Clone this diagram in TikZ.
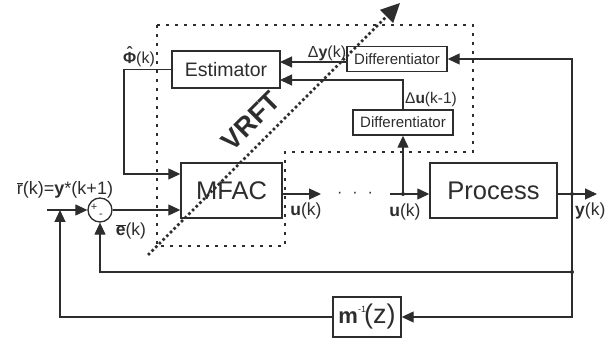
\documentclass[tikz,border=0pt]{standalone}
\usepackage{fontspec}
\setmainfont{Liberation Sans}
\usetikzlibrary{arrows.meta}
\definecolor{ink}{RGB}{45,45,45}
\newcommand{\fs}[1]{\fontsize{#1}{#1}\selectfont}
\begin{document}
\begin{tikzpicture}[x=1pt,y=-1pt,
  every node/.style={text=ink,inner sep=0pt},
  box/.style={draw=ink,line width=1.4pt,fill=white,inner sep=0pt},
  conn/.style={draw=ink,line width=1.2pt},
  arr/.style={conn,-{Triangle[length=12pt,width=11pt]}},
  dotbox/.style={draw=ink,line width=1.5pt,dash pattern=on 2.6pt off 6.4pt},
  vrft/.style={draw=ink,line width=2.8pt,dash pattern=on 2.6pt off 2.6pt,-{Triangle[length=19pt,width=18pt]}},
  jdot/.style={circle,fill=ink,inner sep=0pt,minimum size=4pt}]
\useasboundingbox (0,0) rectangle (614,344);

% dotted VRFT region
\draw[dotbox] (157,25) -- (473,25) -- (473,152) -- (285,152) -- (285,246) -- (157,246) -- cycle;

% blocks
\node[box,minimum width=108pt,minimum height=37pt] (est) at (226,69.5) {\fs{19.5}Estimator};
\node[box,minimum width=101pt,minimum height=55pt] (mfac) at (231.5,190.5) {\fs{25.5}MFAC};
\node[box,minimum width=127pt,minimum height=55pt] (proc) at (493.5,190.5) {\fs{25.5}Process};
\node[box,minimum width=100pt,minimum height=25pt] (dif1) at (397,59) {\fs{15}Differentiator};
\node[box,minimum width=100pt,minimum height=25pt] (dif2) at (403,122.5) {\fs{15}Differentiator};
\node[box,minimum width=68pt,minimum height=40pt] (minv) at (367,317) {\fs{22}\textbf{m}\raisebox{0.5em}{\fs{9}-1}\kern-2pt\fs{27}(z)};
\node[circle,draw=ink,line width=1.3pt,minimum size=24pt] (sum) at (100,210) {};
\node (plus) at (94,207) {\fs{11}+};
\node (minus) at (101,216) {\fs{11}-};

% coordinates
\coordinate (rin) at (47,210);
\coordinate (rj) at (60,210);
\coordinate (phiC) at (124,174);
\coordinate (uo) at (321,194);
\coordinate (ui) at (390,194);
\coordinate (ju) at (403,194);
\coordinate (e1) at (280,62);
\coordinate (e2) at (280,80);
\coordinate (yo) at (597,194);
\coordinate (jy) at (572,194);
\coordinate (jb) at (572,272);

% connectors
\draw[arr] (rin) -- (sum.west);
\draw[arr] (sum.east) -- (sum.east -| mfac.west);
\draw[arr] (est.west) -| (phiC) -- (phiC -| mfac.west);
\draw[arr] (uo -| mfac.east) -- (uo);
\draw[arr] (ui) -- (ui -| proc.west);
\draw[arr] (ju) -- (dif2.south);
\draw[arr] (dif2.north) |- (e2);
\draw[arr] (e1 -| dif1.west) -- (e1);
\draw[arr] (yo -| proc.east) -- (yo);
\draw[arr] (jy) |- (dif1.east);
\draw[conn] (jy) -- (jb);
\draw[arr] (jb) -| (sum.south);
\draw[arr] (jb) |- (minv.east);
\draw[arr] (minv.west) -| (rj);
\node[jdot] (jdu) at (ju) {};
\node[jdot] (jdy) at (jy) {};
\node[jdot] (jdb) at (jb) {};
\node (dots) at (355,195) {\fs{16}·\hspace{10pt}·\hspace{10pt}·};

% labels
\node (philab) at (139,59) {\fs{16}\ooalign{\textbf{Φ}\cr\hidewidth\raisebox{0.3em}{\textbf{ˆ}}\hidewidth\cr}(k)};
\node (rlab) at (65,190) {\fs{18}$\overline{\mbox{r}}$(k)=\textbf{y}*(k+1)};
\node (elab) at (131,231) {\fs{17.5}$\overline{\mbox{\textbf{e}}}$(k)};
\node (u1) at (306,211) {\fs{17.5}\textbf{u}(k)};
\node (u2) at (405,212) {\fs{17.5}\textbf{u}(k)};
\node[anchor=west] (ylab) at (575,211) {\fs{17.5}\textbf{y}(k)};
\node (dy) at (327,53) {\fs{16}Δ\textbf{y}(k)};
\node (du) at (431,99) {\fs{15.5}Δ\textbf{u}(k-1)};

% VRFT arrow
\coordinate (vs) at (148,255);
\coordinate (ve) at (400,3);
\draw[vrft] (vs) -- (ve);
\node[rotate=45] (vlab) at (251,121) {\fs{27}\textbf{VRFT}};
\end{tikzpicture}
\end{document}
